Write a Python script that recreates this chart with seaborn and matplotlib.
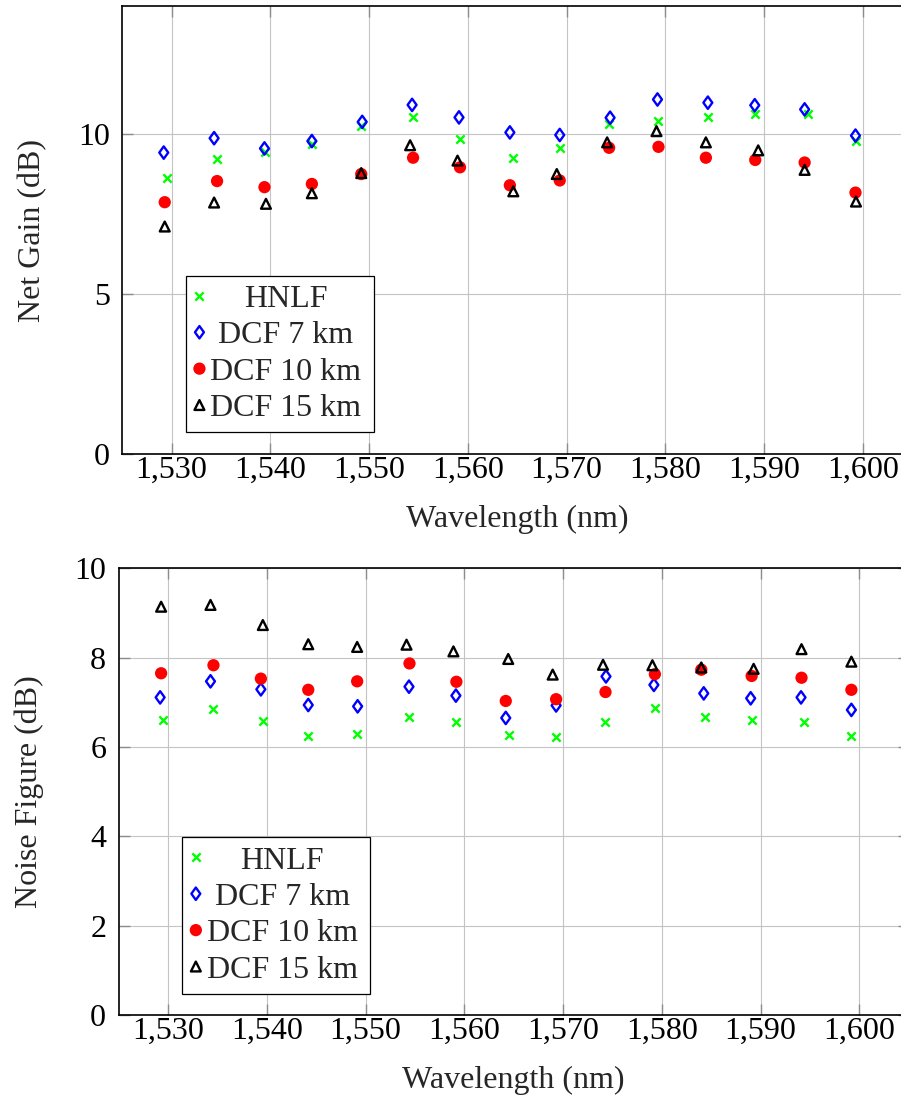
import numpy as np
import pandas as pd
import matplotlib
matplotlib.use("Agg")
import matplotlib.pyplot as plt
import seaborn as sns
from matplotlib.ticker import FuncFormatter
from matplotlib.path import Path

# ---------------- data ----------------
series_names = ["HNLF", "DCF 7 km", "DCF 10 km", "DCF 15 km"]

gain_wl_hnlf = [1529.5, 1534.6, 1539.45, 1544.2, 1549.2, 1554.45, 1559.2, 1564.55, 1569.3, 1574.3, 1579.3, 1584.35, 1589.1, 1594.4, 1599.3]
gain_hnlf = [8.64, 9.23, 9.45, 9.69, 10.25, 10.54, 9.84, 9.24, 9.57, 10.30, 10.40, 10.54, 10.64, 10.64, 9.78]
gain_wl_dcf7 = [1529.2, 1534.3, 1539.4, 1544.2, 1549.3, 1554.35, 1559.1, 1564.25, 1569.3, 1574.4, 1579.2, 1584.3, 1589.05, 1594.1, 1599.25]
gain_dcf7 = [9.42, 9.87, 9.55, 9.78, 10.38, 10.91, 10.52, 10.05, 9.97, 10.51, 11.08, 10.98, 10.90, 10.77, 9.95]
gain_wl_dcf10 = [1529.3, 1534.6, 1539.4, 1544.2, 1549.2, 1554.45, 1559.2, 1564.25, 1569.3, 1574.3, 1579.3, 1584.1, 1589.1, 1594.1, 1599.25]
gain_dcf10 = [7.87, 8.53, 8.34, 8.44, 8.75, 9.26, 8.96, 8.40, 8.55, 9.57, 9.60, 9.26, 9.19, 9.11, 8.17]
gain_wl_dcf15 = [1529.3, 1534.3, 1539.55, 1544.2, 1549.2, 1554.15, 1558.95, 1564.6, 1569.0, 1574.1, 1579.1, 1584.1, 1589.4, 1594.1, 1599.3]
gain_dcf15 = [7.11, 7.86, 7.82, 8.15, 8.78, 9.65, 9.17, 8.21, 8.75, 9.74, 10.09, 9.74, 9.49, 8.88, 7.89]

nf_wl_hnlf = [1529.45, 1534.6, 1539.6, 1544.2, 1549.15, 1554.45, 1559.2, 1564.5, 1569.3, 1574.3, 1579.3, 1584.35, 1589.15, 1594.45, 1599.2]
nf_hnlf = [6.61, 6.84, 6.59, 6.25, 6.30, 6.67, 6.55, 6.26, 6.22, 6.55, 6.88, 6.67, 6.60, 6.56, 6.24]
nf_wl_dcf7 = [1529.2, 1534.3, 1539.4, 1544.2, 1549.2, 1554.4, 1559.15, 1564.2, 1569.3, 1574.35, 1579.2, 1584.25, 1589.0, 1594.1, 1599.2]
nf_dcf7 = [7.11, 7.47, 7.29, 6.94, 6.91, 7.35, 7.15, 6.65, 6.93, 7.58, 7.39, 7.20, 7.09, 7.11, 6.83]
nf_wl_dcf10 = [1529.3, 1534.6, 1539.4, 1544.2, 1549.15, 1554.45, 1559.2, 1564.2, 1569.3, 1574.3, 1579.3, 1584.0, 1589.1, 1594.15, 1599.2]
nf_dcf10 = [7.65, 7.83, 7.53, 7.28, 7.47, 7.87, 7.46, 7.03, 7.07, 7.23, 7.63, 7.73, 7.59, 7.55, 7.28]
nf_wl_dcf15 = [1529.3, 1534.3, 1539.6, 1544.2, 1549.15, 1554.15, 1558.9, 1564.45, 1568.95, 1574.05, 1579.05, 1584.0, 1589.3, 1594.15, 1599.2]
nf_dcf15 = [9.14, 9.18, 8.73, 8.30, 8.24, 8.29, 8.14, 7.97, 7.62, 7.84, 7.83, 7.78, 7.75, 8.19, 7.91]

x_ticks = [1530, 1540, 1550, 1560, 1570, 1580, 1590, 1600]
gain_ticks = [0, 5, 10]
nf_ticks = [0, 2, 4, 6, 8, 10]

# ---------------- style ----------------
sns.set_theme(style="white")
plt.rcParams["font.family"] = ["Liberation Serif", "DejaVu Serif"]
FS = 23

diamond = Path([(0, 1), (0.72, 0), (0, -1), (-0.72, 0), (0, 1)],
               [Path.MOVETO, Path.LINETO, Path.LINETO, Path.LINETO, Path.CLOSEPOLY])

styles = {
    "HNLF": dict(marker="x", s=36, color="#00ff00", linewidth=1.7),
    "DCF 7 km": dict(marker=diamond, s=80, facecolor="none", edgecolor="#0000ff", linewidth=1.7),
    "DCF 10 km": dict(marker="o", s=78, color="#ff0000", edgecolor="none", linewidth=0),
    "DCF 15 km": dict(marker="^", s=50, facecolor="none", edgecolor="black", linewidth=1.7),
}

fig = plt.figure(figsize=(9.01, 10.97), dpi=100)
ax1 = fig.add_axes([0.1357, 0.5861, 0.8768, 0.4084])
ax2 = fig.add_axes([0.1317, 0.07475, 0.8768, 0.4072])

top_data = [(gain_wl_hnlf, gain_hnlf), (gain_wl_dcf7, gain_dcf7),
            (gain_wl_dcf10, gain_dcf10), (gain_wl_dcf15, gain_dcf15)]
bot_data = [(nf_wl_hnlf, nf_hnlf), (nf_wl_dcf7, nf_dcf7),
            (nf_wl_dcf10, nf_dcf10), (nf_wl_dcf15, nf_dcf15)]

legends = []
for ax, data, ylim, yt, ylabel in [
    (ax1, top_data, (0, 14), gain_ticks, "Net Gain (dB)"),
    (ax2, bot_data, (0, 10), nf_ticks, "Noise Figure (dB)"),
]:
    for name, (wl, vals) in zip(series_names, data):
        df = pd.DataFrame({"wl": wl, "v": vals})
        sns.scatterplot(data=df, x="wl", y="v", ax=ax, label=name, zorder=3, **styles[name])
    ax.set_xlim(1525, 1605)
    ax.set_ylim(*ylim)
    ax.set_xticks(x_ticks)
    ax.set_yticks(yt)
    ax.xaxis.set_major_formatter(FuncFormatter(lambda x, p: f"{x:,.0f}"))
    ax.grid(True, color="#c4c4c4", linewidth=0.8, zorder=0)
    ax.set_axisbelow(True)
    for sp in ax.spines.values():
        sp.set_color("black")
        sp.set_linewidth(1.2)
    ax.tick_params(axis="both", which="major", direction="in", length=8, width=1.0,
                   color="#8c8c8c", labelsize=FS, labelcolor="black")
    ax.tick_params(axis="x", top=True, bottom=True, pad=1)
    ax.tick_params(axis="y", left=True, right=True, pad=9)
    ax.set_xlabel("Wavelength (nm)", fontsize=FS)
    ax.set_ylabel(ylabel, fontsize=FS)
    ax.xaxis.set_label_coords(0.5, -0.114)
    ax.yaxis.set_label_coords(-0.095, 0.5)
    leg = ax.legend(loc="upper left", bbox_to_anchor=(0.0803, 0.098, 0.238, 0.30),
                    mode="expand", borderaxespad=0,
                    fontsize=FS, frameon=True, fancybox=False, framealpha=1,
                    edgecolor="black", borderpad=0.28, labelspacing=0.22,
                    handlelength=0.3, handletextpad=0.19, scatterpoints=1,
                    scatteryoffsets=[0.5])
    leg.get_frame().set_linewidth(0.9)
    legends.append(leg)

# center legend labels (pgfplots style)
fig.canvas.draw()
renderer = fig.canvas.get_renderer()
for leg in legends:
    texts = leg.get_texts()
    widths = [t.get_window_extent(renderer).width for t in texts]
    wmax = max(widths)
    base = leg.handletextpad * leg._fontsize
    col = leg._legend_handle_box.get_children()[0]
    for item, w in zip(col.get_children(), widths):
        item.sep = base + (wmax - w) / 2 * 72.0 / fig.dpi

fig.savefig("out.png", dpi=100)
